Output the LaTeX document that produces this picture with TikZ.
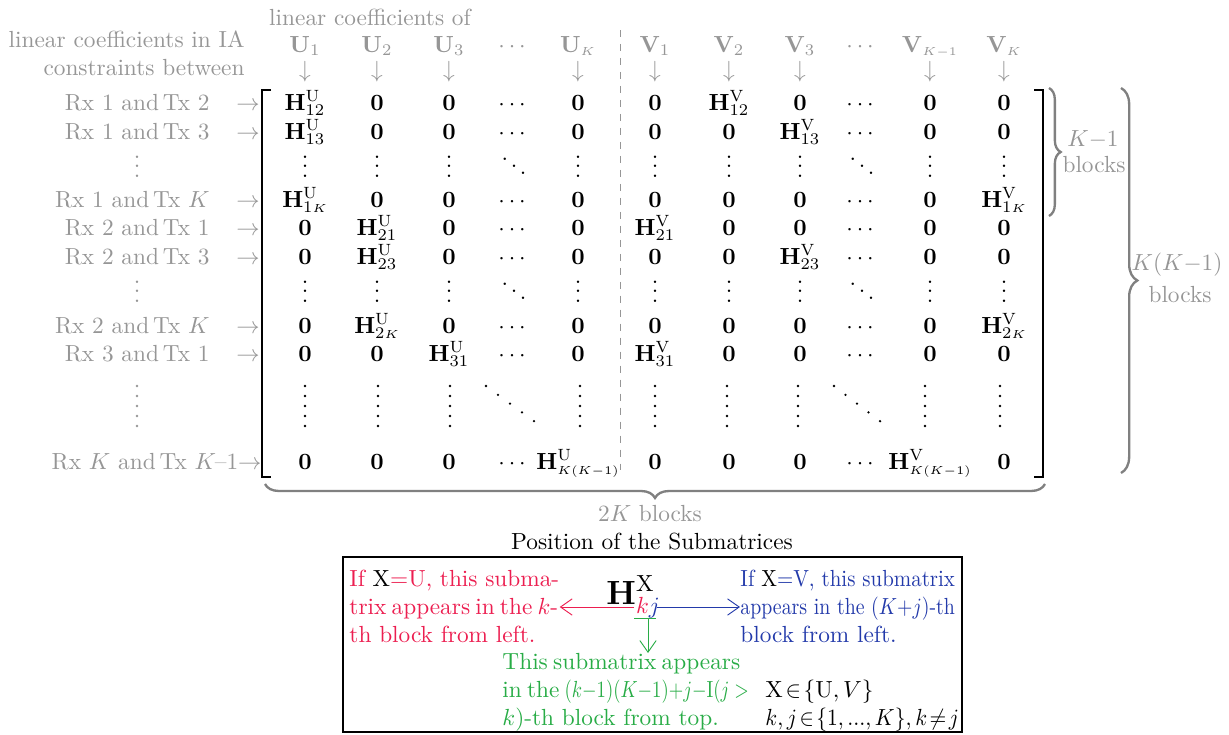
\documentclass[tikz,border=0pt]{standalone}
\usepackage{amsmath,amssymb,graphicx}
\usetikzlibrary{decorations.pathreplacing,arrows.meta}
\definecolor{lg}{RGB}{150,150,150}
\definecolor{braceg}{RGB}{128,128,128}
\definecolor{myred}{RGB}{236,30,80}
\definecolor{myblue}{RGB}{35,58,170}
\definecolor{mygreen}{RGB}{40,172,70}
\newcommand\HU[1]{\mathbf{H}^{\mathrm{U}}_{#1}}
\newcommand\HV[1]{\mathbf{H}^{\mathrm{V}}_{#1}}
\newcommand\Z{\mathbf{0}}
\newcommand\sK{{\scriptscriptstyle K}}
\newcommand\sv{\smash{\vdots}}
\newcommand\sd{\smash{\ddots}}
\def\colx{{305,377,449,514,578,655,729,800,862,930,1004}}
\newcommand\mrow[3]{%
  \foreach \e [count=\i from 0] in {#3} {%
    \pgfmathsetmacro\xx{\colx[\i]}%
    \node[ent] (m#1-\i) at (\xx,#2) {$\e$};
  }%
}
\begin{document}
\begin{tikzpicture}[x=0.429pt,y=-0.429pt,
  gtxt/.style={text=lg},
  ent/.style={anchor=base, inner sep=0pt},
  rowlbl/.style={text=lg, anchor=base east, inner sep=0pt},
  rarr/.style={text=lg, anchor=base, inner sep=0pt},
  gbrace/.style={draw=braceg, line width=1pt, decorate, decoration={brace, amplitude=#1}},
  bracket/.style={line width=0.8pt},
  tip/.style={-{Straight Barb[length=5pt,width=7pt]}},
  dot/.style={radius=0.55pt}]
\useasboundingbox (0,0) rectangle (1229,734);

% headers
\node[gtxt] (hdr) at (370,17) {linear coefficients of};
\node[gtxt, anchor=base east, inner sep=0pt] (lh1) at (245,47) {linear coefficients in IA};
\node[gtxt, anchor=base east, inner sep=0pt] (lh2) at (245,75) {constraints between};
\foreach \e [count=\i from 0] in {\mathbf{U}_1,\mathbf{U}_2,\mathbf{U}_3,\cdots,\mathbf{U}_\sK,\mathbf{V}_1,\mathbf{V}_2,\mathbf{V}_3,\cdots,\mathbf{V}_{\scriptscriptstyle K{-}1},\mathbf{V}_\sK}{
  \pgfmathsetmacro\xx{\colx[\i]}
  \node[gtxt,ent] (h-\i) at (\xx,52) {$\e$};
}
\foreach \i in {0,1,2,4,5,6,7,9,10}{
  \pgfmathsetmacro\xx{\colx[\i]}
  \node[gtxt] (d-\i) at (\xx,72) {$\downarrow$};
}

% matrix entries
\mrow{1}{110}{\HU{12},\Z,\Z,\cdots,\Z,\Z,\HV{12},\Z,\cdots,\Z,\Z}
\mrow{2}{139}{\HU{13},\Z,\Z,\cdots,\Z,\Z,\Z,\HV{13},\cdots,\Z,\Z}
\mrow{3}{177}{\sv,\sv,\sv,\sd,\sv,\sv,\sv,\sv,\sd,\sv,\sv}
\mrow{4}{207}{\HU{1\sK},\Z,\Z,\cdots,\Z,\Z,\Z,\Z,\cdots,\Z,\HV{1\sK}}
\mrow{5}{235}{\Z,\HU{21},\Z,\cdots,\Z,\HV{21},\Z,\Z,\cdots,\Z,\Z}
\mrow{6}{264}{\Z,\HU{23},\Z,\cdots,\Z,\Z,\Z,\HV{23},\cdots,\Z,\Z}
\mrow{7}{302}{\sv,\sv,\sv,\sd,\sv,\sv,\sv,\sv,\sd,\sv,\sv}
\mrow{8}{333}{\Z,\HU{2\sK},\Z,\cdots,\Z,\Z,\Z,\Z,\cdots,\Z,\HV{2\sK}}
\mrow{9}{361}{\Z,\Z,\HU{31},\cdots,\Z,\HV{31},\Z,\Z,\cdots,\Z,\Z}
\mrow{11}{469}{\Z,\Z,\Z,\cdots,\HU{\scriptscriptstyle K(K{-}1)},\Z,\Z,\Z,\cdots,\HV{\scriptscriptstyle K(K{-}1)},\Z}

% long dots of row 10
\foreach \x in {305,378,450,580,655,727,798,925,1000}
  \foreach \y in {386,396,406,416,426}
    \fill (\x,\y) circle[dot];
\foreach \y in {386,396,406,416,426}
  \fill[lg] (137,\y) circle[dot];
\foreach \t in {0,...,4}{
  \fill ({486+12*\t},{386+8.8*\t}) circle[dot];
  \fill ({834+11.5*\t},{386+8.8*\t}) circle[dot];
}

% row labels
\foreach \n/\y/\t in {1/110/{Rx 1 and\,Tx 2},2/139/{Rx 1 and\,Tx 3},4/207/{Rx 1 and\,Tx $K$},
   5/235/{Rx 2 and\,Tx 1},6/264/{Rx 2 and\,Tx 3},8/333/{Rx 2 and\,Tx $K$},9/361/{Rx 3 and\,Tx 1}}{
  \node[rowlbl] (l\n) at (210,\y) {\t};
  \node[rarr] (a\n) at (248,\y) {$\rightarrow$};
}
\node[gtxt, anchor=base] (ld3) at (137,177) {$\sv$};
\node[gtxt, anchor=base] (ld7) at (137,302) {$\sv$};
\node[rowlbl] (l11) at (262,469) {Rx $K$ and\,Tx $K${\kern-0.5pt}--1$\rightarrow$};

% brackets and separator
\draw[bracket] (271,90) -- (262,90) -- (262,477) -- (271,477);
\draw[bracket] (1034,90) -- (1043,90) -- (1043,477) -- (1034,477);
\draw[lg, dashed] (620,30) -- (620,470);

% braces
\draw[gbrace=5pt] (1049,88) -- (1049,216);
\node[gtxt] (kb1) at (1093,140) {$K{-}1$};
\node[gtxt] (kb2) at (1094,165) {blocks};
\draw[gbrace=7pt] (1121,88) -- (1121,473);
\node[gtxt] (kk1) at (1177,265) {$K(K{-}1)$};
\node[gtxt] (kk2) at (1180,295) {blocks};
\draw[gbrace=6pt] (1045,484) -- (265,484);
\node[gtxt] (bk) at (650,514) {$2K$ blocks};

% legend
\node (pos) at (652,542) {Position of the Submatrices};
\draw[line width=0.8pt] (343,557) rectangle (962,732);
\node[anchor=base west, inner sep=0pt] (Hx) at (606,604) {\Large$\mathbf{H}^{\mathrm{X}}_{\textcolor{myred}{k}\textcolor{myblue}{j}}$};
\coordinate (kL) at (634,607);
\coordinate (jR) at (657,607);
\coordinate (uL) at (634,618);
\coordinate (uR) at (656,618);
\coordinate (uM) at (648,618);
\node[anchor=north west, text=myred, align=left, inner sep=0pt] (redtxt) at (349,570)
  {\makebox[90pt][s]{If \textcolor{black}{X}$=$U, this subma-}\\
   \makebox[88pt][s]{trix appears in the $k$-}\\
   th block from left.};
\node[anchor=north west, text=myblue, align=left, inner sep=0pt] (bluetxt) at (740,570)
  {\resizebox{92pt}{\height}{If \textcolor{black}{X}$=$V, this submatrix}\\
   \resizebox{92pt}{\height}{appears in the $(K{+}j)$-th}\\
   block from left.};
\node[anchor=north west, text=mygreen, align=left, inner sep=0pt] (greentxt) at (502,653)
  {\makebox[102pt][s]{This submatrix appears}\\
   \makebox[102pt][s]{in the \scalebox{0.8}[1]{$(k{-}1)(K{-}1){+}j{-}\mathrm{I}(j>$}}\\
   $k$)-th block from top.};
\node[anchor=north west, align=left, inner sep=0pt] (cond) at (765,680)
  {$\mathrm{X}\!\in\!\{\mathrm{U},V\}$\\
   \resizebox{83pt}{\height}{$k,j\!\in\!\{1,...,K\},k\!\neq\! j$}};
\draw[myred, tip] (kL) -- (redtxt.east |- kL);
\draw[myblue, tip] (jR) -- (bluetxt.west |- jR);
\draw[mygreen] (uL) -- (uR);
\draw[mygreen, tip] (uM) -- (greentxt.north -| uM);
\end{tikzpicture}
\end{document}
